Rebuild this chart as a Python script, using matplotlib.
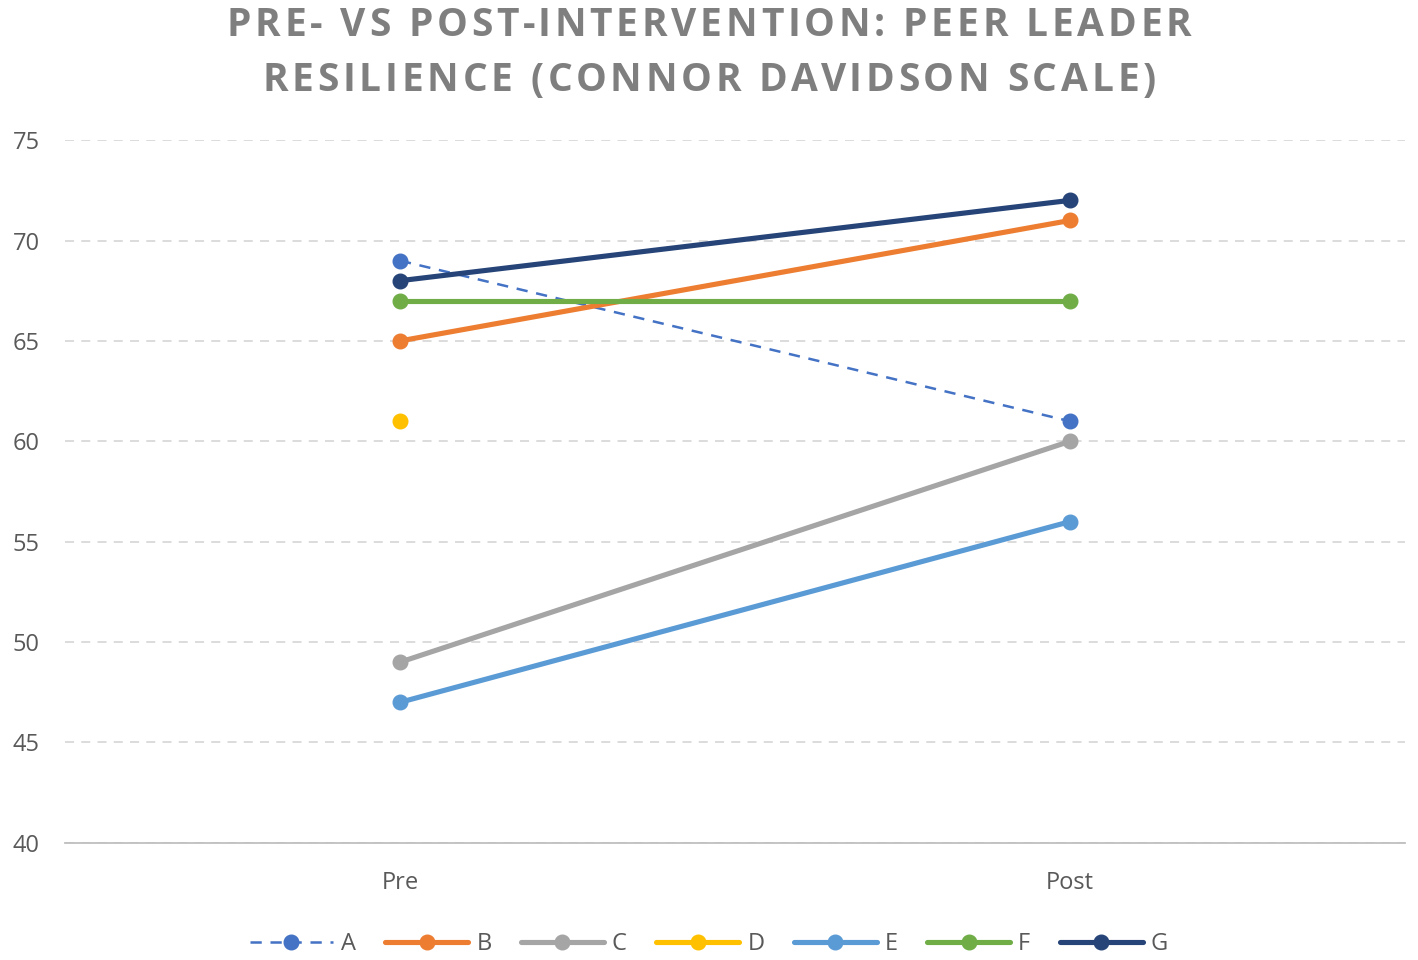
import matplotlib
matplotlib.use("Agg")
import matplotlib.pyplot as plt
import numpy as np

categories = ["Pre", "Post"]
series_names = ["A", "B", "C", "D", "E", "F", "G"]
A = [69, 61]
B = [65, 71]
C = [49, 60]
D = [61, np.nan]
E = [47, 56]
F = [67, 67]
G = [68, 72]
values = [A, B, C, D, E, F, G]
colors = ["#4472C4", "#ED7D31", "#A5A5A5", "#FFC000", "#5B9BD5", "#70AD47", "#264478"]
yticks = [40, 45, 50, 55, 60, 65, 70, 75]
title_lines = ["PRE- VS POST-INTERVENTION: PEER LEADER", "RESILIENCE (CONNOR DAVIDSON SCALE)"]

plt.rcParams['font.family'] = ['Open Sans', 'DejaVu Sans']

W, H = 1418, 960
fig = plt.figure(figsize=(W / 100, H / 100), dpi=100)
ax = fig.add_axes([0.0458, 0.122, 0.945, 0.732])

x = np.arange(len(categories))
for name, vals, col in zip(series_names, values, colors):
    ls = (0, (4.5, 3.5)) if name == "A" else "-"
    lw = 1.8 if name == "A" else 3.7
    ax.plot(x, vals, color=col, lw=lw, ls=ls, marker="o", markersize=10.5,
            label=name, solid_capstyle="round", zorder=3)

ax.set_xlim(-0.5, 1.5)
ax.set_ylim(40, 75)
ax.set_xticks(x)
ax.set_xticklabels(categories)
ax.set_yticks(yticks)
ax.yaxis.grid(True, color="#D9D9D9", lw=1.3, ls=(0, (5, 4)))
ax.set_axisbelow(True)
for s in ["top", "right", "left"]:
    ax.spines[s].set_visible(False)
ax.spines["bottom"].set_color("#BFBFBF")
ax.spines["bottom"].set_linewidth(1.3)
ax.tick_params(axis="both", length=0, labelsize=17, labelcolor="#595959")
ax.tick_params(axis="x", pad=20)
for lbl in ax.get_yticklabels():
    lbl.set_horizontalalignment("left")
    lbl.set_x(-0.0355)

# Letter-spaced title, drawn character by character
renderer = fig.canvas.get_renderer()
tsize = 28
tkw = dict(fontsize=tsize, fontweight="bold", color="#7F7F7F")

def text_width(s):
    t = fig.text(0, 0, s + "|", **tkw)
    w1 = t.get_window_extent(renderer).width
    t.remove()
    t = fig.text(0, 0, "|", **tkw)
    w2 = t.get_window_extent(renderer).width
    t.remove()
    return w1 - w2

tracking = 3.8
for line, base_px in zip(title_lines, [36, 91]):
    total = text_width(line) + tracking * (len(line) - 1)
    x0 = W / 2 - total / 2
    for i, ch in enumerate(line):
        if ch == " ":
            continue
        xp = x0 + text_width(line[:i]) + tracking * i
        fig.text(xp / W, 1 - base_px / H, ch, ha="left", va="baseline", **tkw)

fig.legend(loc="lower center", bbox_to_anchor=(0.5, -0.018), ncol=7, frameon=False,
           fontsize=17, handlelength=3.5, columnspacing=1.25, handletextpad=0.35,
           labelcolor="#595959")

fig.savefig("out.png", dpi=100)
